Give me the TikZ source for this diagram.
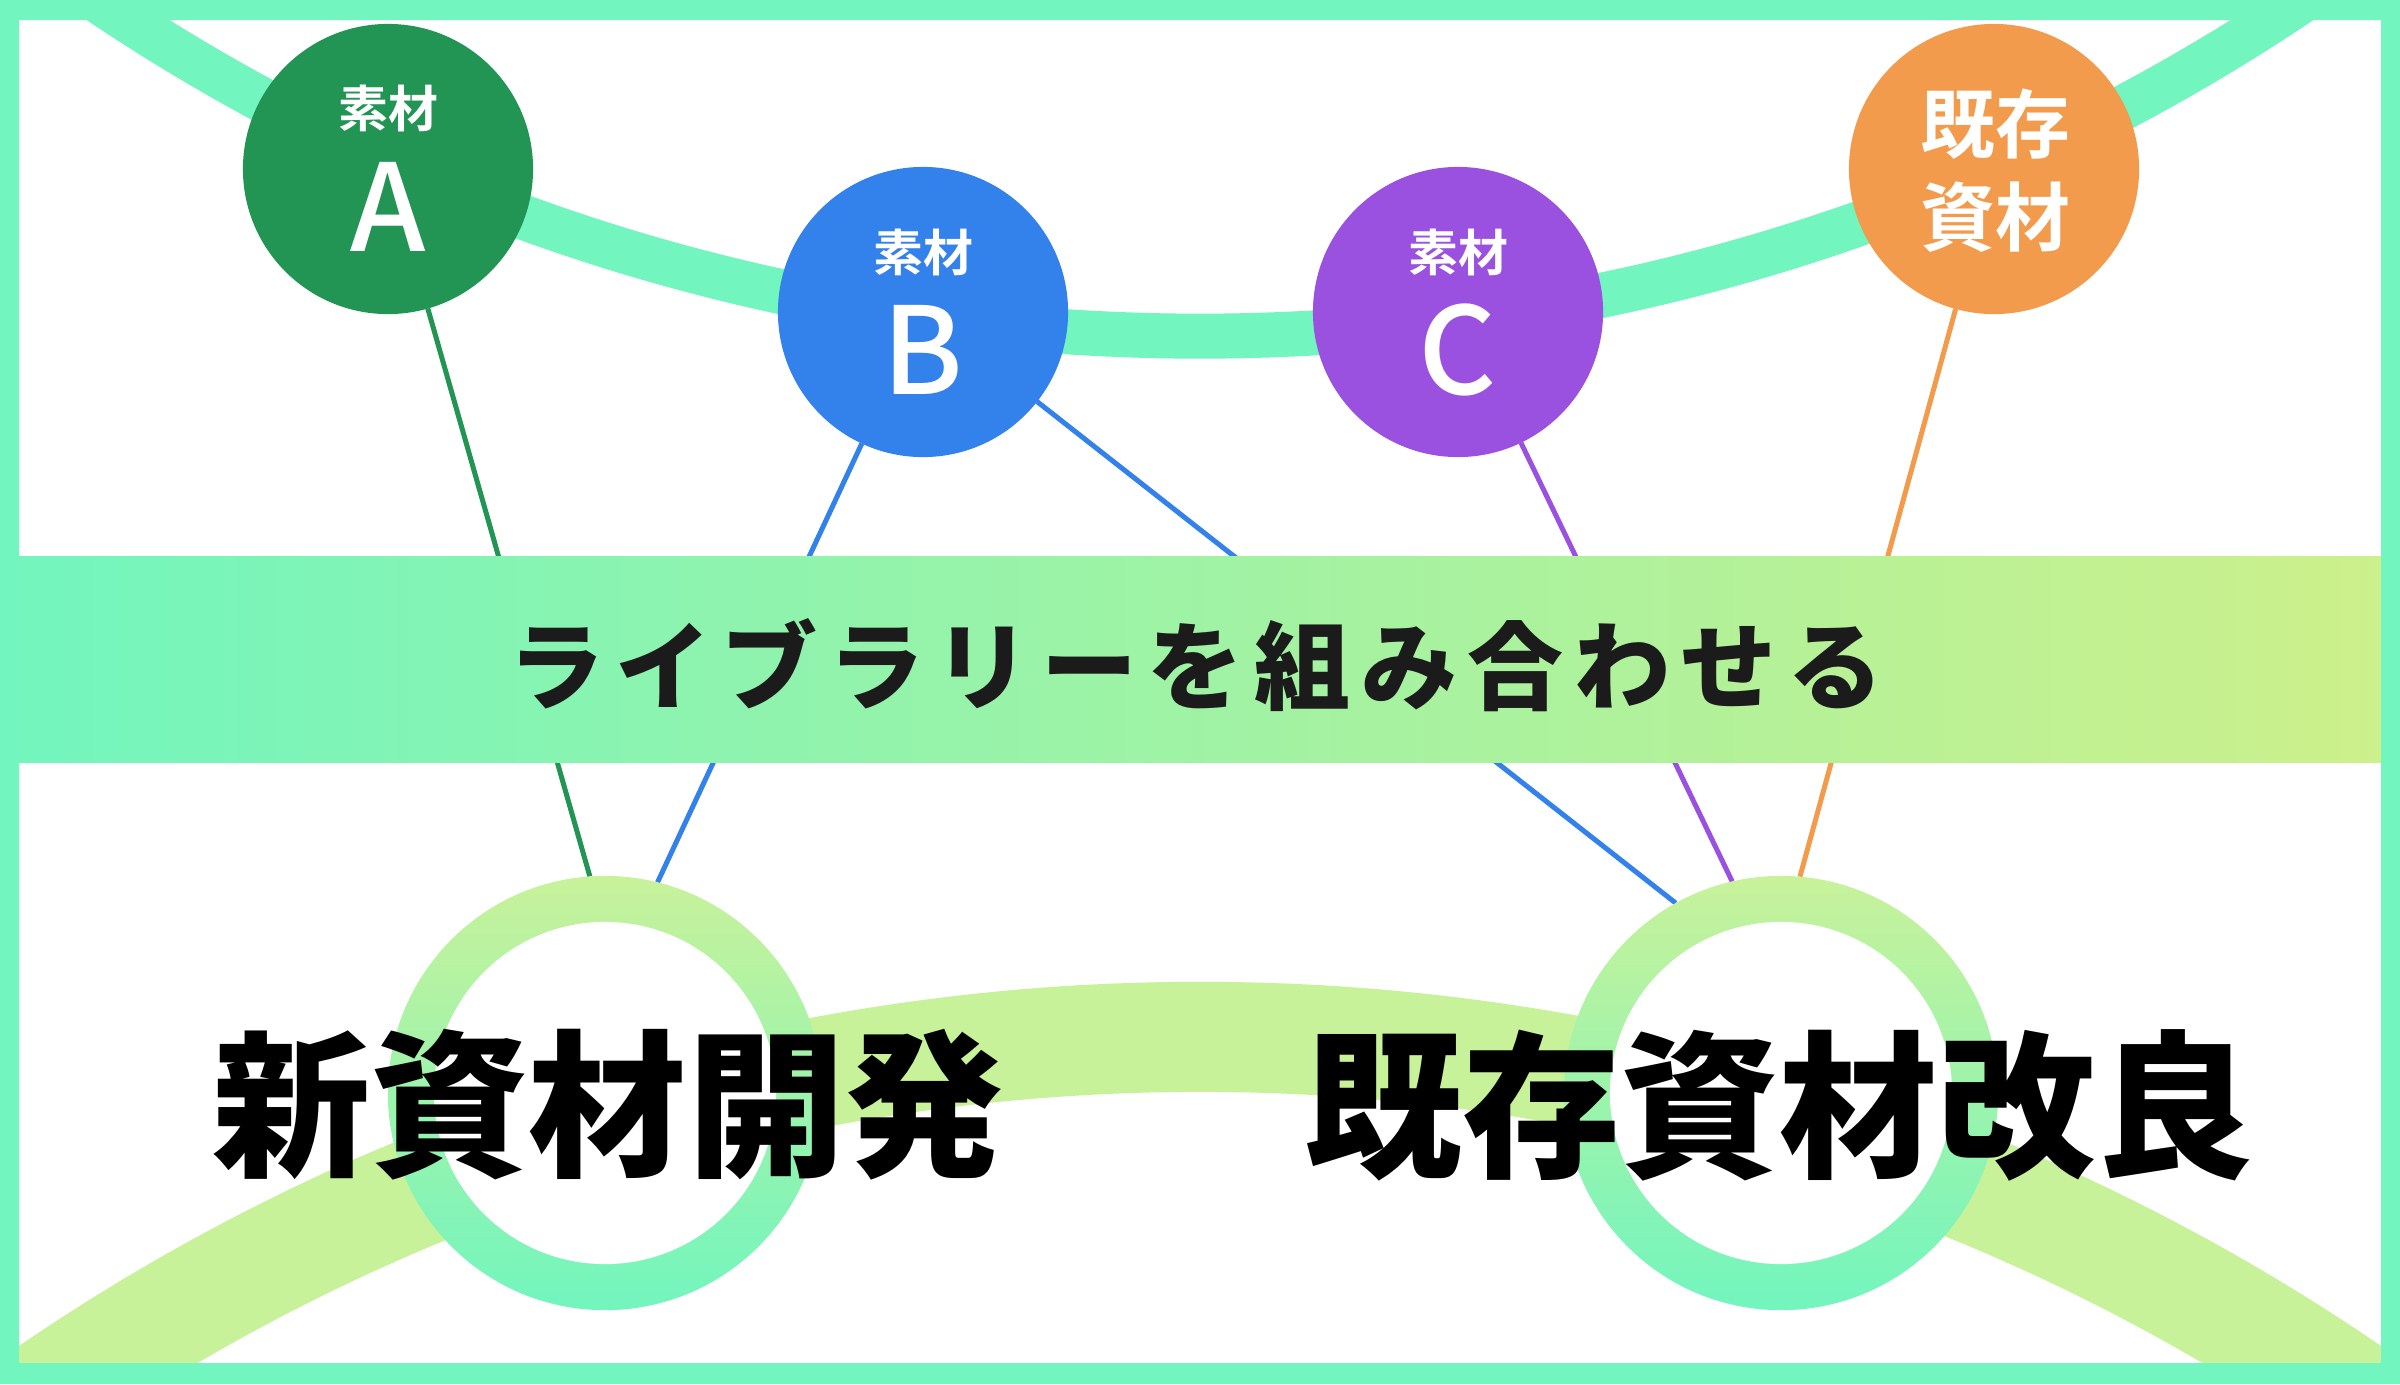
\documentclass[tikz,border=0pt]{standalone}
\usepackage{fontspec}
\usetikzlibrary{calc}
\IfFontExistsTF{Noto Sans CJK JP Black}{\newfontfamily\jpblack{Noto Sans CJK JP Black}}{\newfontfamily\jpblack{Noto Sans CJK JP}[FakeBold=2.5]}
\IfFontExistsTF{Noto Sans CJK JP Bold}{\newfontfamily\jpbold{Noto Sans CJK JP Bold}}{\newfontfamily\jpbold{Noto Sans CJK JP}[FakeBold=1.5]}
\IfFontExistsTF{Noto Sans CJK JP Medium}{\newfontfamily\jpmed{Noto Sans CJK JP Medium}}{\newfontfamily\jpmed{Noto Sans CJK JP}[FakeBold=0.8]}
\definecolor{mint}{HTML}{72F5BE}
\definecolor{lime}{HTML}{C8F29A}
\definecolor{bannerR}{HTML}{CCF08B}
\definecolor{cA}{HTML}{229555}
\definecolor{cB}{HTML}{3381EA}
\definecolor{cC}{HTML}{9A51E0}
\definecolor{cD}{HTML}{F29B4C}
\definecolor{ink}{HTML}{1B1B1B}
\pgfdeclarelayer{back}
\pgfdeclarelayer{lines}
\pgfdeclarelayer{band}
\pgfdeclarelayer{front}
\pgfsetlayers{back,lines,band,main,front}
\tikzset{
  matcircle/.style={circle, inner sep=0pt, outer sep=0pt, minimum size=2.9cm},
  smalllab/.style={text=white, inner sep=0pt, font=\jpbold\fontsize{14.2}{14.2}\selectfont},
  letterlab/.style={text=white, inner sep=0pt, font=\jpmed\fontsize{34.4}{34.4}\selectfont},
  ring/.style={circle, inner sep=0pt, outer sep=0pt, minimum size=4.34cm, top color=lime, bottom color=mint, draw=none},
  hole/.style={circle, inner sep=0pt, outer sep=0pt, minimum size=3.42cm, fill=white},
  bigtext/.style={inner sep=0pt, text=black, font=\jpblack\fontsize{45}{45}\selectfont},
  link/.style={line width=0.05cm}
}
\begin{document}
\begin{tikzpicture}[x=0.01cm, y=-0.01cm]
\useasboundingbox (0,0) rectangle (2400,1384);
\begin{pgfonlayer}{back}
  \fill[white] (0,0) rectangle (2400,1384);
  \begin{scope}
    \clip (19,20) rectangle (2381,1363);
    \draw[mint, line width=0.45cm] (1200,-1640) circle (19.75cm);
    \draw[lime, line width=1.1cm] (1200,3078) circle (20.4cm);
  \end{scope}
\end{pgfonlayer}

% material circles
\node[matcircle, fill=cA] (A) at (388,169) {};
\node[smalllab] (Alab) at (388,108) {素材};
\node[letterlab] (Alet) at (388,207) {A};
\node[matcircle, fill=cB] (B) at (923,312) {};
\node[smalllab] (Blab) at (923,252) {素材};
\node[letterlab] (Blet) at (923,350) {B};
\node[matcircle, fill=cC] (C) at (1458,312) {};
\node[smalllab] (Clab) at (1458,252) {素材};
\node[letterlab] (Clet) at (1458,350) {C};
\node[matcircle, fill=cD] (D) at (1994,169) {};
\node[text=white, inner sep=0pt, align=center, font=\jpbold\fontsize{21.3}{26.5}\selectfont] (Dlab) at (1995,171) {既存\\資材};

% rings
\node[ring] (Lring) at (605,1093) {};
\node[hole] (Lhole) at (605,1093) {};
\node[ring] (Rring) at (1781,1093) {};
\node[hole] (Rhole) at (1781,1093) {};

\node[bigtext] (Ltext) at (608,1105) {新資材開発};
\node[bigtext] (Rtext) at (1779,1105) {既存資材改良};

% connectors
\begin{pgfonlayer}{lines}
  \draw[link, cA] (A) -- (Lring.94);
  \draw[link, cB] (B) -- (Lring.76);
  \draw[link, cB] (B) -- (Rring.119);
  \draw[link, cC] (C) -- (Rring.103);
  \draw[link, cD] (D) -- (Rring.85);
\end{pgfonlayer}

% banner
\begin{pgfonlayer}{band}
  \shade[left color=mint, right color=bannerR] (0,556) rectangle (2381,762);
  \node[inner sep=0pt, text=ink, font=\jpblack\fontsize{27.3}{27.3}\selectfont\addfontfeatures{LetterSpace=11}] (title) at (1196,665) {ライブラリーを組み合わせる};
\end{pgfonlayer}

\begin{pgfonlayer}{front}
  \fill[mint, even odd rule] (0,0) rectangle (2400,1384) (19,20) rectangle (2381,1363);
\end{pgfonlayer}
\end{tikzpicture}
\end{document}
